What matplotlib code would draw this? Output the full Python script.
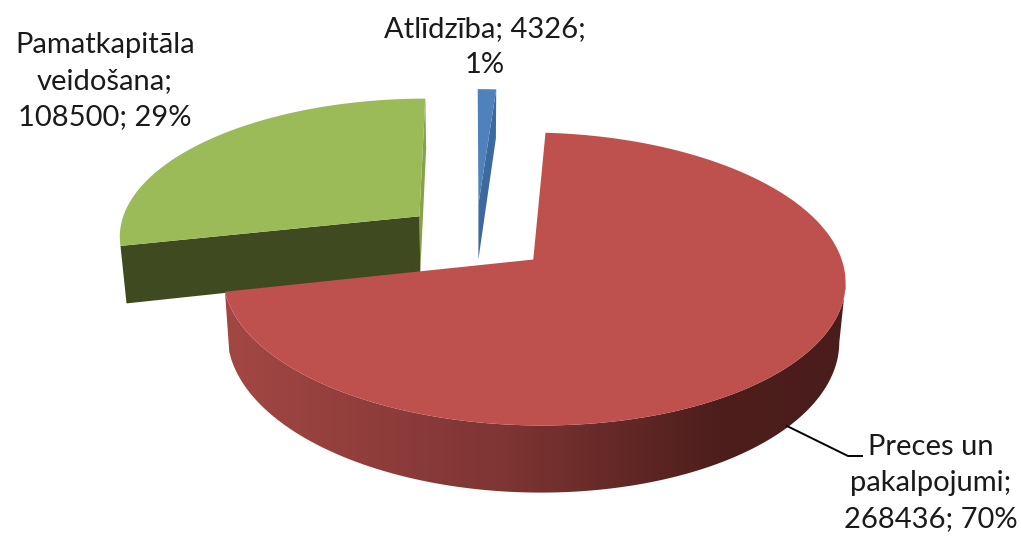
import numpy as np
import matplotlib
matplotlib.use("Agg")
import matplotlib.pyplot as plt
from matplotlib.patches import Polygon
from matplotlib.colors import LinearSegmentedColormap

# Data
names = ["Atlīdzība", "Preces un pakalpojumi", "Pamatkapitāla veidošana"]
values = [4326, 268436, 108500]
percents = [1, 70, 29]
labels = ["Atlīdzība; 4326;\n1%",
          "Preces un\npakalpojumi;\n268436; 70%",
          "Pamatkapitāla\nveidošana;\n108500; 29%"]
label_xy = [(485, 47), (931, 483), (105, 81)]

top_colors = ["#4F81BD", "#BE504D", "#9BBB59"]
side_colors = ["#3C6A9E", None, "#86A24A"]
front_color = "#3F4A20"

# 3D pie set up (pixels of the picture)
vx, vy = 476, 237     # pie centre
R, S = 302, 138       # radius across / in depth
k = 0.13              # perspective
T = 57                # thickness
bottom_scale = 0.983
explode = 0.245
first_angle = -0.1

plt.rcParams['font.family'] = ['Lato', 'DejaVu Sans']

def project(X, Y, bottom=False):
    X, Y = np.asarray(X, float), np.asarray(Y, float)
    w = 1 + k * Y
    sx = R * X / w
    sy = -S * Y / w
    if bottom:
        return vx + sx * bottom_scale, vy + sy + T / w
    return vx + sx, vy + sy

fig = plt.figure(figsize=(10.21, 5.38), dpi=100)
ax = fig.add_axes([0, 0, 1, 1])

# clockwise angles from the top, from the values
sizes = 360 * np.array(values) / sum(values)
starts = first_angle + np.concatenate([[0], np.cumsum(sizes)[:-1]])

wall_cmap = LinearSegmentedColormap.from_list(
    "wall", [(0, "#A34744"), (0.45, "#7E3533"), (0.8, "#4D1E1C"), (1, "#4A1C1B")])

# far pieces first, the big red one last
for i in [2, 0, 1]:
    a = np.radians(np.linspace(starts[i], starts[i] + sizes[i], 400))
    mid = np.radians(starts[i] + sizes[i] / 2)
    ox, oy = explode * np.sin(mid), explode * np.cos(mid)
    rx, ry = ox + np.sin(a), oy + np.cos(a)

    tx, ty = project(rx, ry)
    bx, by = project(rx, ry, bottom=True)
    cx_t, cy_t = project(ox, oy)
    cx_b, cy_b = project(ox, oy, bottom=True)
    z = 2 * (i + 1) if i != 1 else 10

    if i == 1:
        # outer wall with the shading across it, straight edge at the right silhouette
        wall = ax.imshow(np.linspace(0, 1, 256)[None, :], cmap=wall_cmap, aspect="auto",
                         extent=[tx.min(), tx.max(), by.max(), ty.min()], zorder=z)
        t0, b0 = np.argmax(tx), np.argmax(bx)
        clip = Polygon(np.c_[np.r_[tx[t0:], bx[b0:][::-1]], np.r_[ty[t0:], by[b0:][::-1]]],
                       transform=ax.transData)
        wall.set_clip_path(clip)
    else:
        # cut face at the clockwise end of the slice
        ax.fill([tx[-1], cx_t, cx_b, bx[-1]], [ty[-1], cy_t, cy_b, by[-1]],
                color=side_colors[i], lw=0, zorder=z)
        if i == 2:
            # front cut face at the start of the green slice
            ax.fill([tx[0], cx_t, cx_b, bx[0]], [ty[0], cy_t, cy_b, by[0]],
                    color=front_color, lw=0, zorder=z)

    ax.fill(np.r_[cx_t, tx], np.r_[cy_t, ty], color=top_colors[i], lw=0, zorder=z + 1)

# leader line of the red label
ax.plot([787, 848, 862], [426, 456, 456], color="black", lw=1.4, zorder=20)

for txt, (x, y) in zip(labels, label_xy):
    ax.text(x, y, txt, ha="center", va="center", fontsize=21, color="#1a1a1a", linespacing=1.46, zorder=21)

ax.set_xlim(0, 1021)
ax.set_ylim(538, 0)
ax.axis("off")

fig.savefig("out.png", dpi=100)
